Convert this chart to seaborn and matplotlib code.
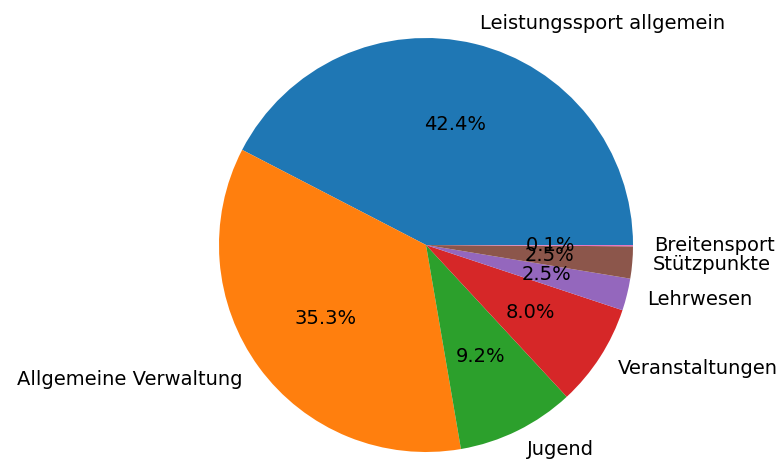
import matplotlib
matplotlib.use("Agg")
import matplotlib.pyplot as plt
import seaborn as sns

categories = ["Leistungssport allgemein", "Allgemeine Verwaltung", "Jugend",
              "Veranstaltungen", "Lehrwesen", "Stützpunkte", "Breitensport"]
values = [42.4, 35.3, 9.2, 8.0, 2.5, 2.5, 0.1]

colors = sns.color_palette("tab10", len(categories))

dpi = 140
fig = plt.figure(figsize=(776 / dpi, 461 / dpi), dpi=dpi)
ax = fig.add_axes([0, 0, 1, 1])
ax.pie(values, labels=categories, colors=colors, autopct="%1.1f%%",
       textprops={"fontsize": 10})
cx, cy, r = 426, 245, 207
W, H = 776, 461
ax.set_aspect("auto")
ax.set_xlim(-cx / r, (W - cx) / r)
ax.set_ylim(-(H - cy) / r, cy / r)
ax.axis("off")
fig.savefig("out.png", dpi=dpi)
